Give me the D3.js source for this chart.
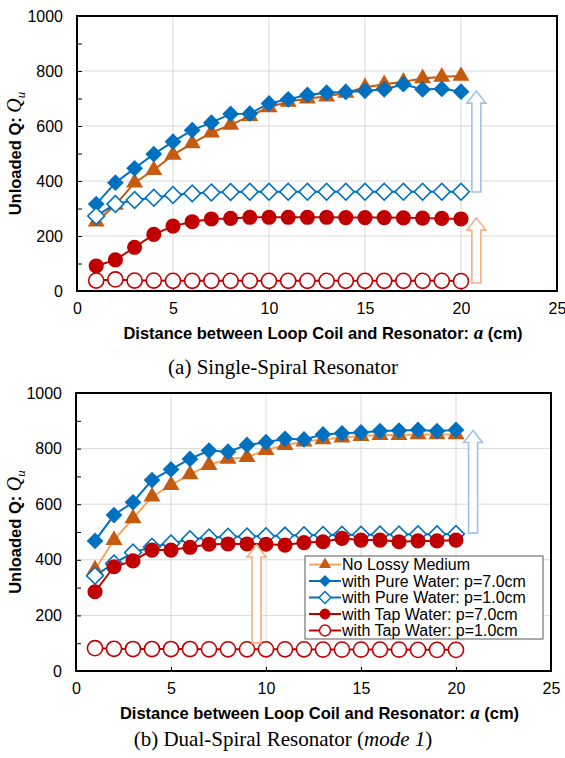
<!DOCTYPE html>
<html>
<head>
<meta charset="utf-8">
<script src="https://cdn.jsdelivr.net/npm/d3@7"></script>
<style>
  body { margin: 0; background: #fff; }
  text { font-family: Arial, "Liberation Sans", sans-serif; fill: #000; }
</style>
</head>
<body>
<div id="chart"></div>
<script>
// x values (cm)
const distances = [1, 2, 3, 4, 5, 6, 7, 8, 9, 10, 11, 12, 13, 14, 15, 16, 17, 18, 19, 20];
const xTicks = [0, 5, 10, 15, 20, 25];
const yTicks = [0, 200, 400, 600, 800, 1000];

// (a) single-spiral resonator
const noLossA = [252, 313, 394, 440, 495, 537, 576, 604, 636, 668, 688, 700, 707, 721, 741, 752, 761, 773, 779, 782];
const pure7A = [316, 394, 446, 498, 543, 585, 612, 644, 645, 682, 697, 713, 721, 724, 728, 733, 752, 733, 735, 725];
const pure1A = [273, 316, 331, 339, 349, 355, 358, 360, 361, 361, 361, 361, 361, 361, 361, 361, 361, 361, 361, 361];
const tap7A = [91, 113, 159, 206, 236, 252, 262, 264, 268, 268, 268, 268, 268, 267, 267, 267, 266, 265, 264, 262];
const tap1A = [38, 42, 38, 38, 37, 37, 37, 37, 37, 37, 37, 37, 37, 37, 37, 37, 37, 37, 37, 36];

// (b) dual-spiral resonator, mode 1
const noLossB = [365, 471, 549, 627, 669, 707, 741, 763, 769, 795, 813, 825, 833, 840, 845, 849, 849, 851, 851, 851];
const pure7B = [468, 561, 607, 687, 725, 763, 793, 789, 813, 823, 835, 833, 851, 855, 858, 863, 865, 867, 863, 867];
const pure1B = [343, 387, 426, 447, 459, 474, 480, 483, 484, 485, 487, 488, 489, 490, 490, 491, 491, 492, 492, 493];
const tap7B = [285, 375, 396, 435, 435, 445, 456, 457, 457, 456, 453, 462, 465, 477, 471, 471, 465, 468, 468, 471];
const tap1B = [82, 80, 79, 79, 79, 79, 78, 78, 78, 78, 78, 78, 77, 77, 77, 77, 77, 76, 76, 76];

// arrows: [x, from, to, colour]
const arrowsA = [[20.8, 360, 727, "#9dc3e6"], [20.8, 29, 265, "#f4b183"]];
const arrowsB = [[9.5, 101, 453, "#f4b183"], [20.9, 496, 865, "#9dc3e6"]];

const seriesNames = [
  "No Lossy Medium",
  "with Pure Water: p=7.0cm",
  "with Pure Water: p=1.0cm",
  "with Tap Water: p=7.0cm",
  "with Tap Water: p=1.0cm"
];

const orange = "#c55a11", blue = "#0070c0", red = "#c00000";

const width = 565, height = 758;
const svg = d3.select("#chart").append("svg")
  .attr("width", width)
  .attr("height", height);

function marker(type) {
  if (type === "tri") return d3.symbol().type(d3.symbolTriangle).size(125)();
  if (type === "dia") return d3.symbol().type(d3.symbolSquare).size(140)();
  return d3.symbol().type(d3.symbolCircle).size(180)();
}

function drawChart(box, data, arrows, caption, captionItalic, legend) {
  const x = d3.scaleLinear().domain([0, 25]).range([box.left, box.right]);
  const y = d3.scaleLinear().domain([0, 1000]).range([box.bottom, box.top]);
  const g = svg.append("g");

  // grid
  g.append("g").selectAll("line").data(yTicks.slice(1, -1)).join("line")
    .attr("x1", box.left).attr("x2", box.right)
    .attr("y1", d => y(d)).attr("y2", d => y(d))
    .attr("stroke", "#d9d9d9").attr("stroke-width", 1);
  g.append("g").selectAll("line").data(xTicks.slice(1, -1)).join("line")
    .attr("y1", box.top).attr("y2", box.bottom)
    .attr("x1", d => x(d)).attr("x2", d => x(d))
    .attr("stroke", "#d9d9d9").attr("stroke-width", 1);

  // y axis ticks (inside) + labels
  const yAxis = d3.axisLeft(y).tickValues(d3.range(0, 1001, 100)).tickSize(-5)
    .tickFormat(d => yTicks.includes(d) ? d : "");
  const ya = g.append("g").attr("transform", `translate(${box.left},0)`).call(yAxis);
  ya.select(".domain").remove();
  ya.selectAll("line").attr("stroke", "#000");
  ya.selectAll("text").attr("x", -14).style("font-size", "16px")
    .style("font-family", "Arial, 'Liberation Sans', sans-serif");

  const xAxis = d3.axisBottom(x).tickValues(xTicks).tickSize(-4);
  const xa = g.append("g").attr("transform", `translate(0,${box.bottom})`).call(xAxis);
  xa.select(".domain").remove();
  xa.selectAll("line").attr("stroke", "#000");
  xa.selectAll("text").attr("y", 12).style("font-size", "16px")
    .style("font-family", "Arial, 'Liberation Sans', sans-serif");

  // series
  const line = d3.line().x((d, i) => x(distances[i])).y(d => y(d));
  data.forEach(s => {
    g.append("path").datum(s.values)
      .attr("d", line).attr("fill", "none")
      .attr("stroke", s.line).attr("stroke-width", 2);
    g.append("g").selectAll("path").data(s.values).join("path")
      .attr("d", marker(s.shape))
      .attr("transform", (d, i) => `translate(${x(distances[i])},${y(d)})` + (s.shape === "dia" ? " rotate(45)" : ""))
      .attr("fill", s.filled ? s.color : "#fff")
      .attr("stroke", s.color)
      .attr("stroke-width", s.filled ? 0 : 1.6);
  });

  // arrows
  arrows.forEach(a => {
    const cx = x(a[0]), yb = y(a[1]), yt = y(a[2]), hb = yt + 12;
    const p = d3.path();
    p.moveTo(cx - 4.5, yb); p.lineTo(cx - 4.5, hb); p.lineTo(cx - 9.5, hb);
    p.lineTo(cx, yt); p.lineTo(cx + 9.5, hb); p.lineTo(cx + 4.5, hb);
    p.lineTo(cx + 4.5, yb); p.closePath();
    g.append("path").attr("d", p.toString())
      .attr("fill", "#fff").attr("stroke", a[3]).attr("stroke-width", 1.6);
  });

  // frame
  g.append("rect")
    .attr("x", box.left).attr("y", box.top)
    .attr("width", box.right - box.left).attr("height", box.bottom - box.top)
    .attr("fill", "none").attr("stroke", "#000").attr("stroke-width", 2);

  // y title
  const yt = g.append("text")
    .attr("transform", `translate(21,${(box.top + box.bottom) / 2}) rotate(-90)`)
    .attr("text-anchor", "middle")
    .style("font-size", "16.5px").style("font-weight", "bold");
  yt.append("tspan").text("Unloaded Q: ");
  yt.append("tspan").text("Q").style("font-family", "'Liberation Serif', serif")
    .style("font-style", "italic").style("font-weight", "normal").style("font-size", "20px");
  yt.append("tspan").text("u").attr("dy", 4).style("font-family", "'Liberation Serif', serif")
    .style("font-style", "italic").style("font-weight", "normal").style("font-size", "13px");

  // x title
  const xt = g.append("text")
    .attr("x", (box.left + box.right) / 2 + 6).attr("y", box.bottom + 48)
    .attr("text-anchor", "middle")
    .style("font-size", "16.5px").style("font-weight", "bold");
  xt.append("tspan").text("Distance between Loop Coil and Resonator: ");
  xt.append("tspan").text("a").style("font-family", "'Liberation Serif', serif")
    .style("font-style", "italic").style("font-size", "19px");
  xt.append("tspan").text(" (cm)");

  // caption
  const ct = g.append("text")
    .attr("x", 283).attr("y", box.bottom + box.captionGap)
    .attr("text-anchor", "middle")
    .style("font-family", "'Liberation Serif', 'Times New Roman', serif")
    .style("font-size", "21px");
  ct.append("tspan").text(caption);
  if (captionItalic) {
    ct.append("tspan").text("(");
    ct.append("tspan").text(captionItalic).style("font-style", "italic");
    ct.append("tspan").text(")");
  }

  // legend
  if (legend) {
    const lg = g.append("g");
    lg.append("rect").attr("x", legend.x).attr("y", legend.y)
      .attr("width", legend.w).attr("height", legend.h)
      .attr("fill", "#fff").attr("stroke", "#595959").attr("stroke-width", 1);
    data.forEach((s, i) => {
      const ry = legend.y + 8.5 + i * 16.5;
      lg.append("line").attr("x1", legend.x + 4).attr("x2", legend.x + 36)
        .attr("y1", ry).attr("y2", ry).attr("stroke", s.line).attr("stroke-width", 2);
      lg.append("path").attr("d", marker(s.shape))
        .attr("transform", `translate(${legend.x + 20},${ry}) scale(0.72)` + (s.shape === "dia" ? " rotate(45)" : ""))
        .attr("fill", s.filled ? s.color : "#fff")
        .attr("stroke", s.color).attr("stroke-width", s.filled ? 0 : 2);
      lg.append("text").attr("x", legend.x + 37).attr("y", ry + 5.5)
        .style("font-size", "16px").text(seriesNames[i]);
    });
  }
}

function makeSeries(vals, triLine) {
  return [
    { values: vals[0], shape: "tri", filled: true, color: orange, line: triLine },
    { values: vals[1], shape: "dia", filled: true, color: blue, line: blue },
    { values: vals[2], shape: "dia", filled: false, color: blue, line: blue },
    { values: vals[3], shape: "cir", filled: true, color: red, line: red },
    { values: vals[4], shape: "cir", filled: false, color: red, line: red }
  ];
}

drawChart({ left: 77, right: 557, top: 16, bottom: 291, captionGap: 83 },
  makeSeries([noLossA, pure7A, pure1A, tap7A, tap1A], orange),
  arrowsA, "(a) Single-Spiral Resonator", null, null);

drawChart({ left: 76, right: 551, top: 393, bottom: 671, captionGap: 75 },
  makeSeries([noLossB, pure7B, pure1B, tap7B, tap1B], "#f4a460"),
  arrowsB, "(b) Dual-Spiral Resonator ", "mode 1", { x: 305, y: 556, w: 238, h: 83 });
</script>
</body>
</html>
